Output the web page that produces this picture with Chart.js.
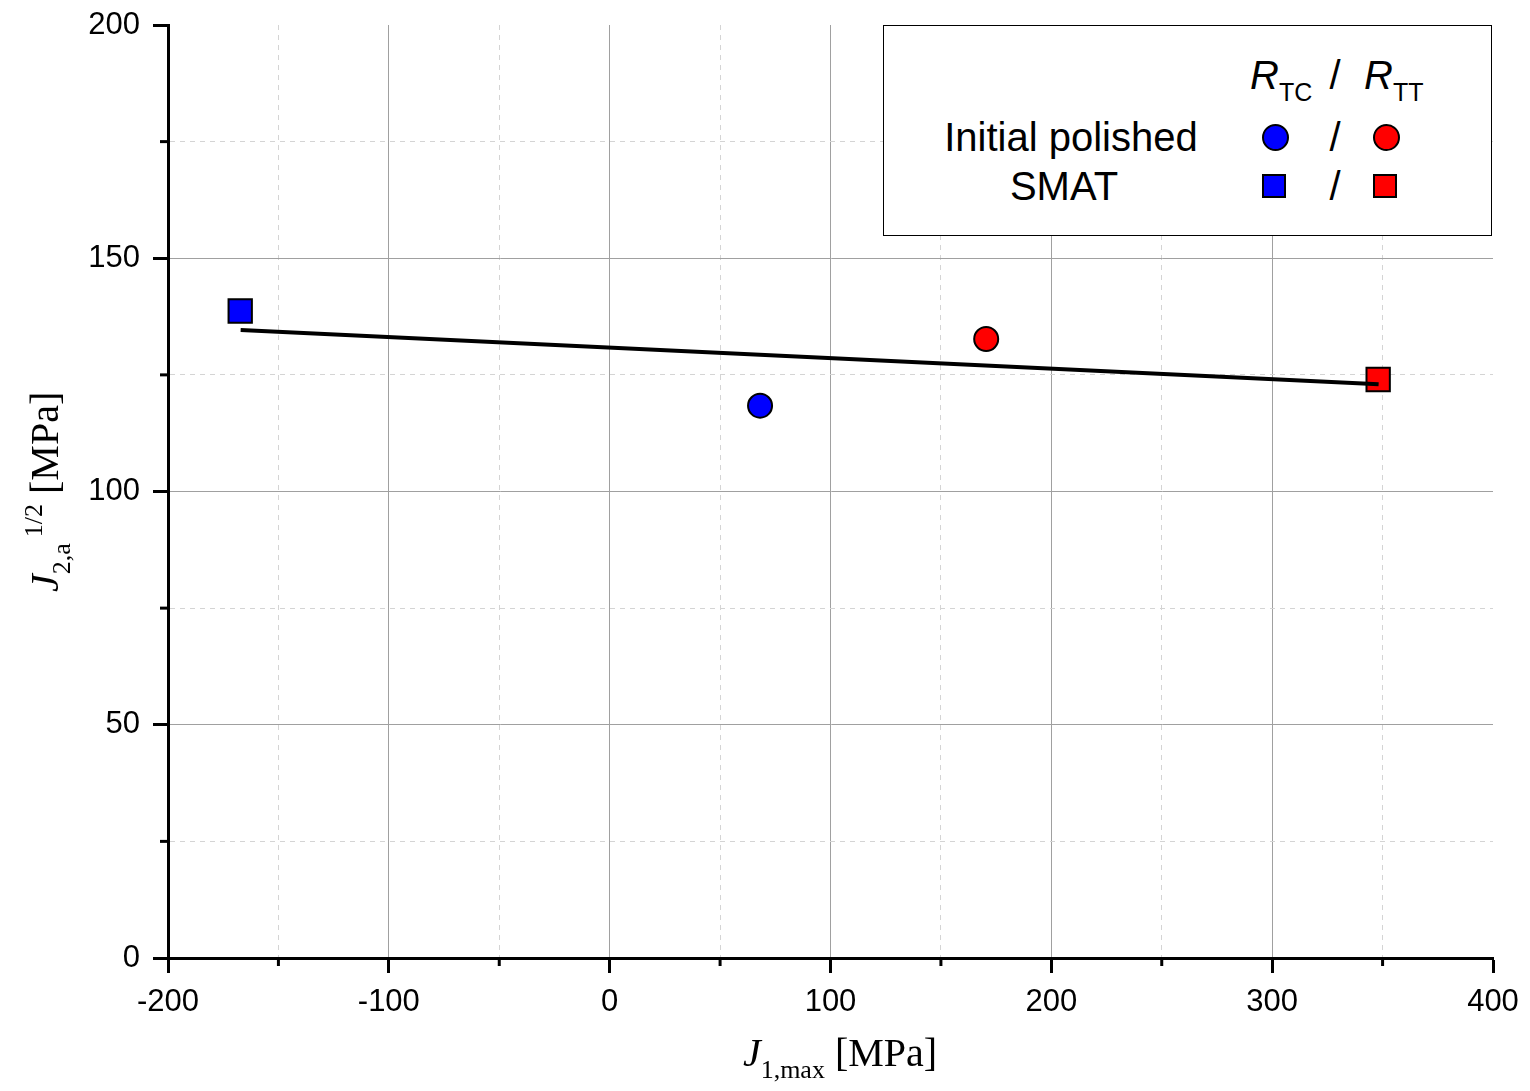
<!DOCTYPE html>
<html>
<head>
<meta charset="utf-8">
<script src="https://cdn.jsdelivr.net/npm/chart.js@4.4.1/dist/chart.umd.min.js"></script>
<style>
  html, body { margin: 0; padding: 0; background: #fff; }
  #wrap { position: relative; width: 1530px; height: 1091px; }
  #chart { position: absolute; left: 0; top: 0; }
  .sans { font-family: "Liberation Sans", Arial, sans-serif; }
  .serif { font-family: "Liberation Serif", "Times New Roman", serif; }
  .t { position: absolute; white-space: nowrap; line-height: 1; color: #000; }
  #legend { position: absolute; left: 883px; top: 25px; width: 607px; height: 209px;
            border: 1.5px solid #000; background: #fff; }
  .mk { position: absolute; box-sizing: border-box; border: 2px solid #000; }
  .circ { width: 27px; height: 27px; border-radius: 50%; }
  .sq { width: 24px; height: 24px; }
</style>
</head>
<body>
<div id="wrap">
  <canvas id="chart" width="1530" height="1091"></canvas>

  <div id="legend"></div>

  <!-- leyenda, coordenadas de pagina -->
  <span class="t sans" style="left:1250px; top:75px; font-size:40px; transform:translateY(-50%);"><i>R</i><span style="font-size:25px; position:relative; top:12px;">TC</span></span>
  <span class="t sans" style="left:1335px; top:75px; font-size:40px; transform:translate(-50%,-50%);">/</span>
  <span class="t sans" style="left:1364px; top:75px; font-size:40px; transform:translateY(-50%);"><i>R</i><span style="font-size:25px; position:relative; top:12px;">TT</span></span>

  <span class="t sans" style="left:1071px; top:137px; font-size:40px; transform:translate(-50%,-50%);">Initial polished</span>
  <span class="mk circ" style="left:1262px; top:124px; background:#0000ff;"></span>
  <span class="t sans" style="left:1335px; top:137px; font-size:40px; transform:translate(-50%,-50%);">/</span>
  <span class="mk circ" style="left:1373px; top:124px; background:#ff0000;"></span>

  <span class="t sans" style="left:1064px; top:186px; font-size:40px; transform:translate(-50%,-50%);">SMAT</span>
  <span class="mk sq" style="left:1262px; top:174px; background:#0000ff;"></span>
  <span class="t sans" style="left:1335px; top:186px; font-size:40px; transform:translate(-50%,-50%);">/</span>
  <span class="mk sq" style="left:1373px; top:174px; background:#ff0000;"></span>

  <!-- titulos de ejes -->
  <div class="t serif" style="left:840px; top:1033px; font-size:40px; transform:translateX(-50%);"><i>J</i><span style="font-size:26px; position:relative; top:12px;">1,max</span> [MPa]</div>
  <div class="t serif" style="left:25px; top:592px; font-size:40px; transform-origin:0 0; transform:rotate(-90deg);"><i>J</i><span style="font-size:26px; position:relative; top:12px;">2,a</span><span style="font-size:26px; position:relative; top:-16px; margin-left:6px;">1/2</span> [MPa]</div>
</div>

<script>
// datos
const pointNames = ['Initial polished R_TC', 'Initial polished R_TT', 'SMAT R_TC', 'SMAT R_TT'];
const pointX = [68.1, 170.5, -167.3, 348.0];
const pointY = [118.4, 132.7, 138.7, 124.0];

// recta de ajuste
const fitX = [-167.1, 348.2];
const fitY = [134.6, 123.0];

// ejes
const xMin = -200, xMax = 400, xStep = 50, xMajor = 100;
const yMin = 0, yMax = 200, yStep = 25, yMajor = 50;

// estilos de los puntos
const pointColors = ['#0000ff', '#ff0000', '#0000ff', '#ff0000'];
const pointShapes = ['circle', 'circle', 'rect', 'rect'];
const pointSizes = [12, 12, 16.5, 16.5];

const isMajor = (v, m) => Math.abs(v % m) < 1e-6;

function gridColor(min, max, major) {
    return ctx => {
        const v = ctx.tick ? ctx.tick.value : null;
        if (v === null || v === min || v === max) return 'rgba(0,0,0,0)';
        return isMajor(v, major) ? '#a0a0a0' : '#d4d4d4';
    };
}
function gridDash(major) {
    return ctx => (ctx.tick && !isMajor(ctx.tick.value, major)) ? [5, 5] : [];
}
function tickColor(major) {
    return ctx => (ctx.tick && isMajor(ctx.tick.value, major)) ? '#000' : 'rgba(0,0,0,0)';
}

// ticks menores mas cortos
const minorTicks = {
    id: 'minorTicks',
    afterDraw(chart) {
        const c = chart.ctx;
        c.save();
        c.strokeStyle = '#000';
        c.lineWidth = 3;
        const xs = chart.scales.x, ys = chart.scales.y;
        xs.ticks.forEach(t => {
            if (isMajor(t.value, xMajor)) return;
            const px = xs.getPixelForValue(t.value);
            c.beginPath(); c.moveTo(px, xs.top); c.lineTo(px, xs.top + 8); c.stroke();
        });
        ys.ticks.forEach(t => {
            if (isMajor(t.value, yMajor)) return;
            const py = ys.getPixelForValue(t.value);
            c.beginPath(); c.moveTo(ys.right, py); c.lineTo(ys.right - 8, py); c.stroke();
        });
        c.restore();
    }
};

const tickFont = { family: '"Liberation Sans", Arial, sans-serif', size: 31 };

new Chart(document.getElementById('chart').getContext('2d'), {
    type: 'scatter',
    data: {
        datasets: [{
            type: 'line',
            label: 'fit',
            data: fitX.map((x, i) => ({ x: x, y: fitY[i] })),
            borderColor: '#000',
            borderWidth: 4,
            pointRadius: 0,
            fill: false,
            order: 0
        }, {
            label: 'puntos',
            data: pointX.map((x, i) => ({ x: x, y: pointY[i], name: pointNames[i] })),
            pointStyle: pointShapes,
            pointRadius: pointSizes,
            backgroundColor: pointColors,
            borderColor: '#000',
            borderWidth: 2,
            order: 1
        }]
    },
    options: {
        responsive: false,
        animation: false,
        devicePixelRatio: 1,
        layout: { padding: { top: 25, right: 37, left: 0, bottom: 0 } },
        plugins: { legend: { display: false }, tooltip: { enabled: false } },
        scales: {
            x: {
                type: 'linear',
                min: xMin, max: xMax,
                afterFit: s => { s.height = 133; },
                ticks: {
                    stepSize: xStep, autoSkip: false, maxRotation: 0, padding: 11,
                    color: '#000', font: tickFont,
                    callback: v => isMajor(v, xMajor) ? String(v) : ''
                },
                grid: {
                    color: gridColor(xMin, xMax, xMajor),
                    lineWidth: 1,
                    tickLength: 15, tickWidth: 3,
                    tickColor: tickColor(xMajor)
                },
                border: { color: '#000', width: 3, dash: gridDash(xMajor) }
            },
            y: {
                type: 'linear',
                min: yMin, max: yMax,
                afterFit: s => { s.width = 168; s.paddingTop = 0; s.paddingBottom = 0; },
                ticks: {
                    stepSize: yStep, autoSkip: false, padding: 13,
                    color: '#000', font: tickFont,
                    callback: v => isMajor(v, yMajor) ? String(v) : ''
                },
                grid: {
                    color: gridColor(yMin, yMax, yMajor),
                    lineWidth: 1,
                    tickLength: 15, tickWidth: 3,
                    tickColor: tickColor(yMajor)
                },
                border: { color: '#000', width: 3, dash: gridDash(yMajor) }
            }
        }
    },
    plugins: [minorTicks]
});
</script>
</body>
</html>
